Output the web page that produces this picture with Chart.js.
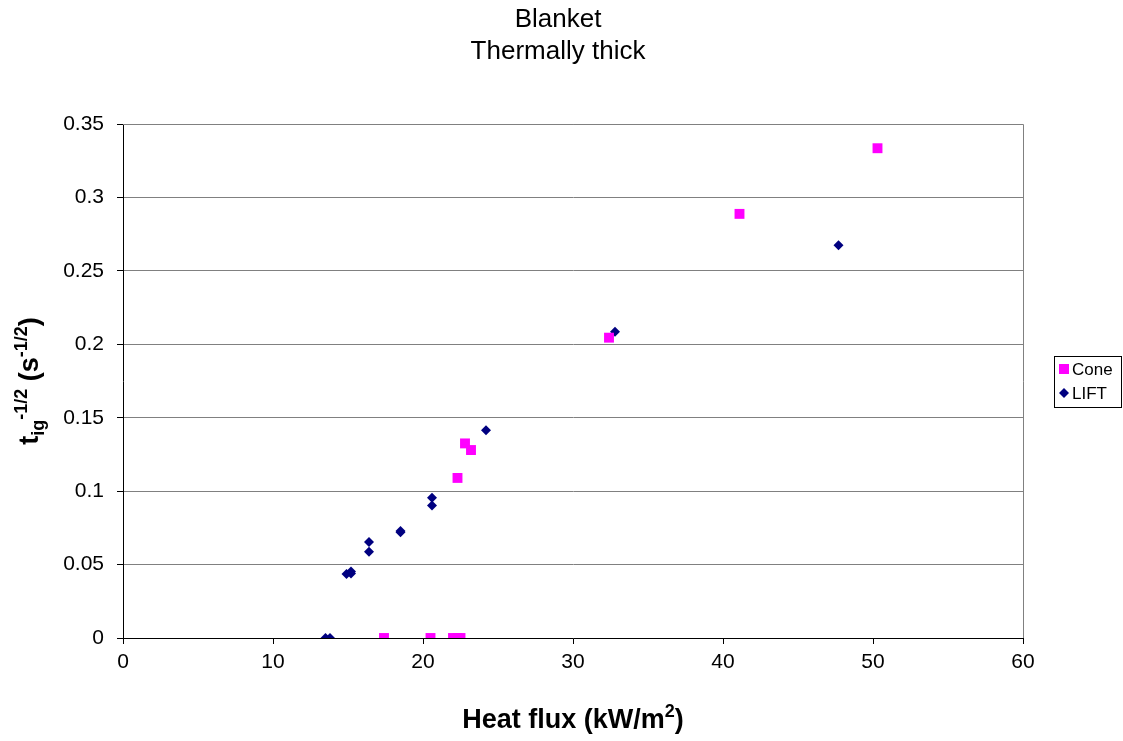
<!DOCTYPE html>
<html>
<head>
<meta charset="utf-8">
<title>Blanket - Thermally thick</title>
<script src="https://cdn.jsdelivr.net/npm/chart.js@4"></script>
<style>
  body { margin: 0; background: #fff; }
  #wrap { width: 1123px; height: 741px; position: relative; }
</style>
</head>
<body>
<div id="wrap"><canvas id="chart"></canvas></div>
<script>
// data
let titleLines = ["Blanket", "Thermally thick"];
let seriesNames = ["Cone", "LIFT"];

let coneFlux = [17.4, 20.5, 22.0, 22.3, 22.5, 22.3, 22.8, 23.2, 32.4, 41.1, 50.3];
let coneTig = [0, 0, 0, 0, 0, 0.109, 0.1325, 0.128, 0.2045, 0.2888, 0.3335];

let liftFlux = [13.5, 13.8, 14.9, 15.2, 15.2, 16.4, 16.4, 18.5, 18.5, 20.6, 20.6, 24.2, 32.8, 47.7];
let liftTig = [0, 0, 0.0436, 0.0452, 0.044, 0.0588, 0.0654, 0.072, 0.0728, 0.0903, 0.0955, 0.1414, 0.2086, 0.2674];

let xTicks = [0, 10, 20, 30, 40, 50, 60];
let yTicks = [0, 0.05, 0.1, 0.15, 0.2, 0.25, 0.3, 0.35];

const FONT = "'Liberation Sans', Arial, sans-serif";

function toPoints(xs, ys) {
    return xs.map((x, i) => ({ x: x, y: ys[i] }));
}

// draws text pieces with sub/superscripts, returns width
function richText(ctx, parts, x, y, measureOnly) {
    let cx = x;
    parts.forEach(p => {
        let size = p.sup || p.sub ? 18 : 27;
        ctx.font = "bold " + size + "px " + FONT;
        let dy = p.sup ? -11 : (p.sub ? 6 : 0);
        if (!measureOnly) ctx.fillText(p.t, cx, y + dy);
        cx += ctx.measureText(p.t).width;
    });
    return cx - x;
}

const extras = {
    id: "extras",
    afterDraw(chart) {
        let ctx = chart.ctx;
        let a = chart.chartArea;
        ctx.save();

        // plot frame, right and top in grey
        ctx.strokeStyle = "#808080";
        ctx.lineWidth = 1;
        ctx.beginPath();
        ctx.moveTo(a.left, a.top + 0.5);
        ctx.lineTo(a.right + 0.5, a.top + 0.5);
        ctx.lineTo(a.right + 0.5, a.bottom);
        ctx.stroke();

        ctx.fillStyle = "#000";

        // chart title, two lines
        ctx.font = "26px " + FONT;
        ctx.textAlign = "center";
        ctx.textBaseline = "middle";
        titleLines.forEach((t, i) => ctx.fillText(t, 558, 20 + i * 32));

        ctx.textBaseline = "alphabetic";
        ctx.textAlign = "left";

        // x axis title
        let xParts = [{ t: "Heat flux (kW/m" }, { t: "2", sup: true }, { t: ")" }];
        let w = richText(ctx, xParts, 0, 0, true);
        richText(ctx, xParts, (a.left + a.right) / 2 - w / 2, 728, false);

        // y axis title, rotated
        let yParts = [{ t: "t" }, { t: "ig", sub: true }, { t: "-1/2", sup: true }, { t: " (s" }, { t: "-1/2", sup: true }, { t: ")" }];
        let wy = richText(ctx, yParts, 0, 0, true);
        ctx.save();
        ctx.translate(38, (a.top + a.bottom) / 2);
        ctx.rotate(-Math.PI / 2);
        richText(ctx, yParts, -wy / 2, 0, false);
        ctx.restore();

        // legend box
        let lx = 1054, ly = 356, lw = 67, lh = 51;
        ctx.strokeStyle = "#000";
        ctx.strokeRect(lx + 0.5, ly + 0.5, lw, lh);
        ctx.font = "17px " + FONT;
        ctx.textBaseline = "middle";
        chart.data.datasets.forEach((ds, i) => {
            let cy = ly + 13 + i * 24;
            ctx.fillStyle = ds.backgroundColor;
            if (ds.pointStyle === "rect") {
                ctx.fillRect(lx + 5, cy - 5, 10, 10);
            } else {
                ctx.beginPath();
                ctx.moveTo(lx + 10, cy - 5);
                ctx.lineTo(lx + 15, cy);
                ctx.lineTo(lx + 10, cy + 5);
                ctx.lineTo(lx + 5, cy);
                ctx.closePath();
                ctx.fill();
            }
            ctx.fillStyle = "#000";
            ctx.fillText(ds.label, lx + 18, cy + 1);
        });

        ctx.restore();
    }
};

new Chart(document.getElementById("chart"), {
    type: "scatter",
    data: {
        datasets: [
            {
                label: seriesNames[0],
                data: toPoints(coneFlux, coneTig),
                pointStyle: "rect",
                pointRadius: 7,
                pointBorderWidth: 0,
                backgroundColor: "#FF00FF",
                borderColor: "#FF00FF"
            },
            {
                label: seriesNames[1],
                data: toPoints(liftFlux, liftTig),
                pointStyle: "rectRot",
                pointRadius: 5,
                pointBorderWidth: 0,
                backgroundColor: "#000080",
                borderColor: "#000080"
            }
        ]
    },
    options: {
        responsive: true,
        maintainAspectRatio: false,
        animation: false,
        layout: { padding: { left: 0, right: 100, top: 124, bottom: 0 } },
        plugins: {
            legend: { display: false },
            tooltip: { enabled: false },
            title: { display: false }
        },
        scales: {
            x: {
                type: "linear",
                min: xTicks[0],
                max: xTicks[xTicks.length - 1],
                afterBuildTicks: s => { s.ticks = xTicks.map(v => ({ value: v })); },
                afterFit: s => { s.height = 103; },
                grid: { drawOnChartArea: false, tickLength: 6, color: "#000" },
                border: { color: "#000" },
                ticks: { color: "#000", font: { family: FONT, size: 21 }, padding: 6, maxRotation: 0 }
            },
            y: {
                type: "linear",
                min: yTicks[0],
                max: yTicks[yTicks.length - 1],
                afterBuildTicks: s => { s.ticks = yTicks.map(v => ({ value: v })); },
                afterFit: s => { s.width = 123; },
                grid: { color: "#808080", tickColor: "#000", tickLength: 6 },
                border: { color: "#000" },
                ticks: {
                    color: "#000",
                    font: { family: FONT, size: 21 },
                    padding: 13,
                    callback: v => String(Number(v.toFixed(2)))
                }
            }
        }
    },
    plugins: [extras]
});
</script>
</body>
</html>
